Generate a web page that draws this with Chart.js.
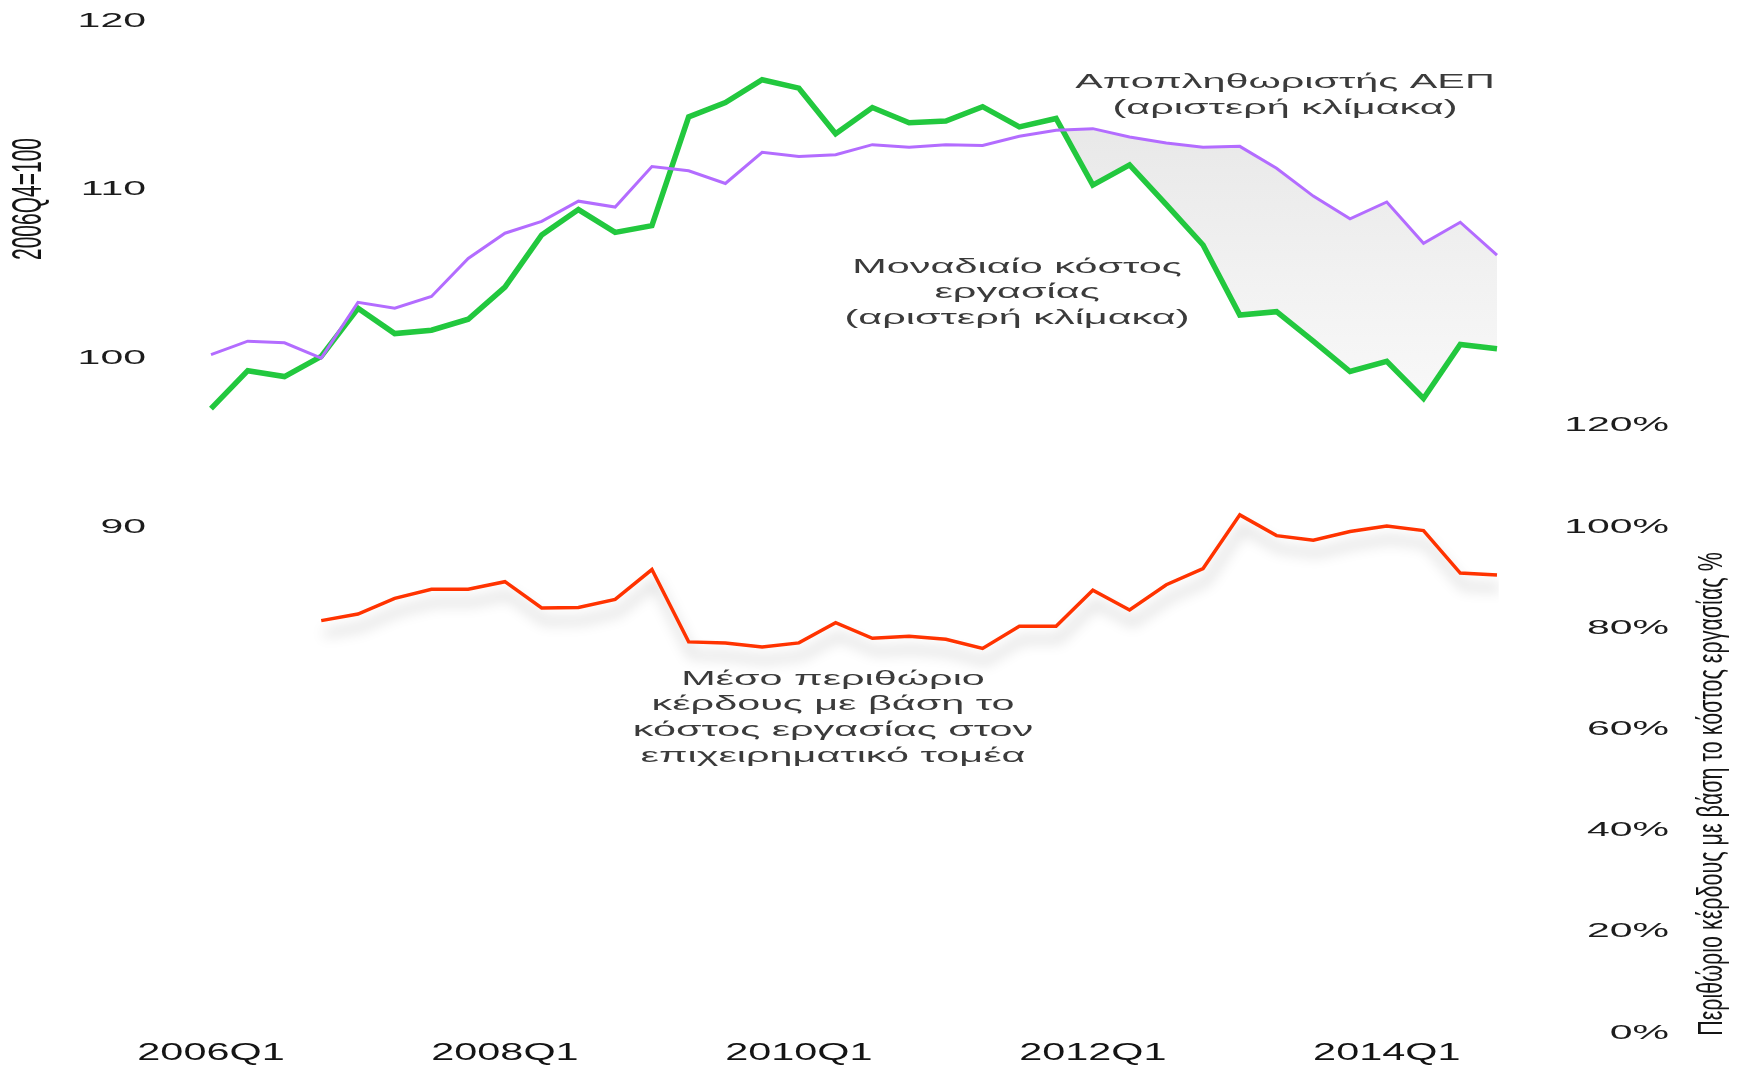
<!DOCTYPE html>
<html lang="el">
<head>
<meta charset="utf-8">
<title>Μοναδιαίο κόστος εργασίας και αποπληθωριστής ΑΕΠ</title>
<script src="https://cdn.jsdelivr.net/npm/chart.js@4/dist/chart.umd.min.js"></script>
<style>
    html, body { margin: 0; padding: 0; background: #fff; }
    canvas { display: block; }
</style>
</head>
<body>
<canvas id="myChart" width="1748" height="1065"></canvas>
<script>
const quarters = [
    "2006Q1", "2006Q2", "2006Q3", "2006Q4",
    "2007Q1", "2007Q2", "2007Q3", "2007Q4",
    "2008Q1", "2008Q2", "2008Q3", "2008Q4",
    "2009Q1", "2009Q2", "2009Q3", "2009Q4",
    "2010Q1", "2010Q2", "2010Q3", "2010Q4",
    "2011Q1", "2011Q2", "2011Q3", "2011Q4",
    "2012Q1", "2012Q2", "2012Q3", "2012Q4",
    "2013Q1", "2013Q2", "2013Q3", "2013Q4",
    "2014Q1", "2014Q2", "2014Q3", "2014Q4",
];

// Αποπληθωριστής ΑΕΠ (2006Q4=100)
const deflator = [
    100.1, 100.9, 100.8, 99.9, 103.2, 102.85, 103.55, 105.8, 107.3, 108.0,
    109.2, 108.85, 111.25, 111.0, 110.25, 112.1, 111.85, 111.95, 112.55, 112.4,
    112.55, 112.5, 113.05, 113.4, 113.5, 113.0, 112.65, 112.4, 112.45, 111.15,
    109.5, 108.15, 109.15, 106.7, 107.95, 106.0,
];

// Μοναδιαίο κόστος εργασίας (2006Q4=100)
const unitLabourCost = [
    96.9, 99.15, 98.8, 100.0, 102.85, 101.35, 101.55, 102.2, 104.1, 107.2,
    108.7, 107.35, 107.75, 114.2, 115.05, 116.4, 115.9, 113.2, 114.75, 113.85,
    113.95, 114.8, 113.6, 114.1, 110.15, 111.35, 109.0, 106.6, 102.45, 102.65,
    100.9, 99.1, 99.7, 97.5, 100.7, 100.45,
];

// Μέσο περιθώριο κέρδους (%)
const profitMargin = [
    null, null, null, 81.1, 82.4, 85.5, 87.3, 87.3, 88.8, 83.6,
    83.7, 85.3, 91.2, 76.9, 76.7, 75.9, 76.7, 80.7, 77.6, 78.0,
    77.4, 75.6, 80.0, 80.0, 87.1, 83.2, 88.2, 91.4, 102.0, 97.9,
    97.0, 98.7, 99.8, 98.9, 90.5, 90.1,
];

const xTickLabels = ["2006Q1", "2008Q1", "2010Q1", "2012Q1", "2014Q1"];
const leftTickValues = [90, 100, 110, 120];
const rightTickValues = [0, 20, 40, 60, 80, 100, 120];
const bandFrom = "2011Q4";

const deflatorNote = ["Αποπληθωριστής ΑΕΠ", "(αριστερή κλίμακα)"];
const costNote = ["Μοναδιαίο κόστος", "εργασίας", "(αριστερή κλίμακα)"];
const marginNote = ["Μέσο περιθώριο", "κέρδους με βάση το", "κόστος εργασίας στον", "επιχειρηματικό τομέα"];
const leftTitle = "2006Q4=100";
const rightTitle = "Περιθώριο κέρδους με βάση το κόστος εργασίας %";

// the original figure is stretched sideways, so text is widened the same way
const canvas = document.getElementById("myChart");
const ctx = canvas.getContext("2d");
const proto = CanvasRenderingContext2D.prototype;
const stretchBySize = { "20": 2.05, "23": 1.8 };
const nudgeBySize = { "20": 2, "23": 1 };

function sizeOf(c) {
    const m = /(\d+(?:\.\d+)?)px/.exec(c.font);
    return m ? m[1] : "";
}

ctx.fillText = function (text, x, y) {
    const size = sizeOf(this);
    const s = stretchBySize[size];
    if (!s) return proto.fillText.call(this, text, x, y);
    this.save();
    this.translate(x, y + (nudgeBySize[size] || 0));
    this.scale(s, 1);
    proto.fillText.call(this, text, 0, 0);
    this.restore();
};

ctx.measureText = function (text) {
    const m = proto.measureText.call(this, text);
    return {
        width: m.width * (stretchBySize[sizeOf(this)] || 1),
        actualBoundingBoxAscent: m.actualBoundingBoxAscent,
        actualBoundingBoxDescent: m.actualBoundingBoxDescent,
    };
};

function wideText(c, text, x, y, sx) {
    c.save();
    c.translate(x, y);
    c.scale(sx, 1);
    proto.fillText.call(c, text, 0, 0);
    c.restore();
}

function sideText(c, text, x, y, sx) {
    c.save();
    c.translate(x, y);
    c.scale(sx, 1);
    c.rotate(-Math.PI / 2);
    proto.fillText.call(c, text, 0, 0);
    c.restore();
}

// y axes: labels sit far from the plot, but that must not shrink the plot vertically
function fixYAxis(width) {
    return (scale) => {
        scale.width = width;
        scale.paddingTop = 0;
        scale.paddingBottom = 0;
    };
}

// grey band between the two lines, only from bandFrom onwards
const bandPlugin = {
    id: "band",
    afterLayout(chart) {
        const { x, y } = chart.scales;
        const off = document.createElement("canvas");
        off.width = chart.width;
        off.height = chart.height;
        const g = off.getContext("2d");
        const grad = g.createLinearGradient(0, y.getPixelForValue(114), 0, y.getPixelForValue(97));
        grad.addColorStop(0, "#e8e8e8");
        grad.addColorStop(1, "#f9f9f9");
        g.fillStyle = grad;
        const cut = x.getPixelForValue(quarters.indexOf(bandFrom));
        g.fillRect(cut, 0, off.width - cut, off.height);
        chart.data.datasets[1].fill.below = chart.ctx.createPattern(off, "no-repeat");
    },
};

const shadowPlugin = {
    id: "redShadow",
    beforeDatasetDraw(chart, args) {
        if (args.index !== 2) return;
        const c = chart.ctx;
        c.save();
        c.shadowColor = "rgba(0, 0, 0, 0.28)";
        c.shadowBlur = 14;
        c.shadowOffsetX = 3;
        c.shadowOffsetY = 13;
    },
    afterDatasetDraw(chart, args) {
        if (args.index === 2) chart.ctx.restore();
    },
};

const notesPlugin = {
    id: "notes",
    afterDraw(chart) {
        const c = chart.ctx;
        c.save();
        c.textAlign = "center";
        c.textBaseline = "middle";
        c.fillStyle = "#3b3b3b";
        c.font = '21px "Liberation Sans"';
        deflatorNote.forEach((t, i) => wideText(c, t, 1285, 82 + i * 26, 1.97));
        costNote.forEach((t, i) => wideText(c, t, 1017, 267 + i * 25.5, 1.97));
        marginNote.forEach((t, i) => wideText(c, t, 833, 679 + i * 25.7, 1.97));

        c.fillStyle = "#151515";
        c.font = '21px "Liberation Sans"';
        sideText(c, leftTitle, 29, 199, 2.0);
        c.font = '21.5px "Liberation Sans"';
        sideText(c, rightTitle, 1713, 794, 1.6);
        c.restore();
    },
};

const data = {
    labels: quarters,
    datasets: [
        {
            label: "Αποπληθωριστής ΑΕΠ",
            data: deflator,
            borderColor: "#b36cff",
            borderWidth: 3,
            pointRadius: 0,
            fill: false,
            yAxisID: "y",
        },
        {
            label: "Μοναδιαίο κόστος εργασίας",
            data: unitLabourCost,
            borderColor: "#22c83e",
            backgroundColor: "rgba(0, 0, 0, 0)",
            borderWidth: 5.5,
            pointRadius: 0,
            fill: { target: 0, above: "rgba(0, 0, 0, 0)", below: "#eeeeee" },
            yAxisID: "y",
        },
        {
            label: "Μέσο περιθώριο κέρδους",
            data: profitMargin,
            borderColor: "#ff3300",
            borderWidth: 3.5,
            pointRadius: 0,
            fill: false,
            spanGaps: false,
            yAxisID: "y2",
        },
    ],
};

const config = {
    type: "line",
    data: data,
    options: {
        responsive: false,
        animation: false,
        devicePixelRatio: 1,
        layout: { padding: { top: 19, right: 79, left: 0, bottom: 0 } },
        plugins: {
            legend: { display: false },
            tooltip: { enabled: false },
        },
        scales: {
            x: {
                type: "category",
                offset: false,
                grid: { display: false, drawTicks: false },
                border: { display: false },
                ticks: {
                    autoSkip: false,
                    maxRotation: 0,
                    minRotation: 0,
                    padding: 8,
                    color: "#141414",
                    font: { family: "Liberation Sans", size: 23 },
                    callback: (value, index) => (xTickLabels.includes(quarters[index]) ? quarters[index] : ""),
                },
                afterFit: (scale) => { scale.height = 34; },
            },
            y: {
                position: "left",
                min: 60,
                max: 120,
                grid: { display: false, drawTicks: false },
                border: { display: false },
                ticks: {
                    padding: 65,
                    color: "#1c1c1c",
                    font: { family: "Liberation Sans", size: 20 },
                },
                afterBuildTicks: (scale) => { scale.ticks = leftTickValues.map((v) => ({ value: v })); },
                afterFit: fixYAxis(211),
            },
            y2: {
                position: "right",
                min: 0,
                max: 200,
                grid: { display: false, drawTicks: false },
                border: { display: false },
                ticks: {
                    padding: 69,
                    crossAlign: "far",
                    color: "#1c1c1c",
                    font: { family: "Liberation Sans", size: 20 },
                    callback: (value) => value + "%",
                },
                afterBuildTicks: (scale) => { scale.ticks = rightTickValues.map((v) => ({ value: v })); },
                afterFit: fixYAxis(172),
            },
        },
    },
    plugins: [bandPlugin, shadowPlugin, notesPlugin],
};

const myChart = new Chart(canvas, config);
</script>
</body>
</html>
